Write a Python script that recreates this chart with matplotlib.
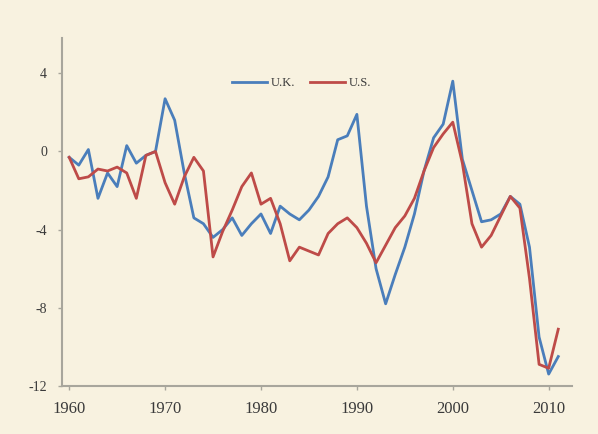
import numpy as np
import matplotlib
matplotlib.use("Agg")
import matplotlib.pyplot as plt

# Budget balance (% of GDP)
years = np.arange(1960, 2012)

uk = [-0.3, -0.7, 0.1, -2.4, -1.1, -1.8, 0.3, -0.6, -0.2, 0.0,
      2.7, 1.6, -1.1, -3.4, -3.7, -4.4, -4.0, -3.4, -4.3, -3.7,
      -3.2, -4.2, -2.8, -3.2, -3.5, -3.0, -2.3, -1.3, 0.6, 0.8,
      1.9, -2.8, -6.0, -7.8, -6.3, -4.9, -3.2, -1.0, 0.7, 1.4,
      3.6, -0.4, -2.0, -3.6, -3.5, -3.2, -2.3, -2.7, -4.9, -9.5,
      -11.4, -10.5]

us = [-0.3, -1.4, -1.3, -0.9, -1.0, -0.8, -1.1, -2.4, -0.2, 0.0,
      -1.6, -2.7, -1.3, -0.3, -1.0, -5.4, -4.1, -3.0, -1.8, -1.1,
      -2.7, -2.4, -3.7, -5.6, -4.9, -5.1, -5.3, -4.2, -3.7, -3.4,
      -3.9, -4.7, -5.7, -4.8, -3.9, -3.3, -2.4, -1.0, 0.2, 0.9,
      1.5, -0.6, -3.7, -4.9, -4.3, -3.3, -2.3, -2.9, -6.5, -10.9,
      -11.1, -9.1]

x_ticks = [1960, 1970, 1980, 1990, 2000, 2010]
y_ticks = [-12, -8, -4, 0, 4]

bg = "#f8f2e0"
blue = "#4a7ebb"
red = "#be4b48"
axis_col = "#a8a69c"
text_col = "#3a3a3a"

fig = plt.figure(figsize=(5.98, 4.34), dpi=100, facecolor=bg)
ax = fig.add_axes([0.104, 0.111, 0.852, 0.801], facecolor=bg)

ax.plot(years, uk, color=blue, lw=2.0, label="U.K.", solid_joinstyle="round")
ax.plot(years, us, color=red, lw=2.0, label="U.S.", solid_joinstyle="round")

ax.set_xlim(1959.27, 2012.4)
ax.set_ylim(-12.0, 5.8)
ax.set_xticks(x_ticks)
ax.set_yticks(y_ticks)
ax.set_xticklabels([str(y) for y in x_ticks], family="Liberation Serif",
                   fontsize=12, color=text_col)
ax.set_yticklabels([str(v) for v in y_ticks], family="Liberation Serif",
                   fontsize=10, color=text_col)

for side in ["top", "right"]:
    ax.spines[side].set_visible(False)
for side in ["left", "bottom"]:
    ax.spines[side].set_color(axis_col)
    ax.spines[side].set_linewidth(1.5)
ax.tick_params(axis="both", colors=axis_col, length=3, width=1)
ax.tick_params(axis="x", pad=8, labelcolor=text_col)
ax.tick_params(axis="y", pad=8, labelcolor=text_col)

leg = ax.legend(loc="upper center", bbox_to_anchor=(0.47, 0.92), ncol=2,
                frameon=False, handlelength=2.8, handletextpad=0.3,
                columnspacing=1.2, prop={"family": "Liberation Serif", "size": 9})
for t in leg.get_texts():
    t.set_color(text_col)

fig.savefig("out.png", dpi=100, facecolor=bg)
